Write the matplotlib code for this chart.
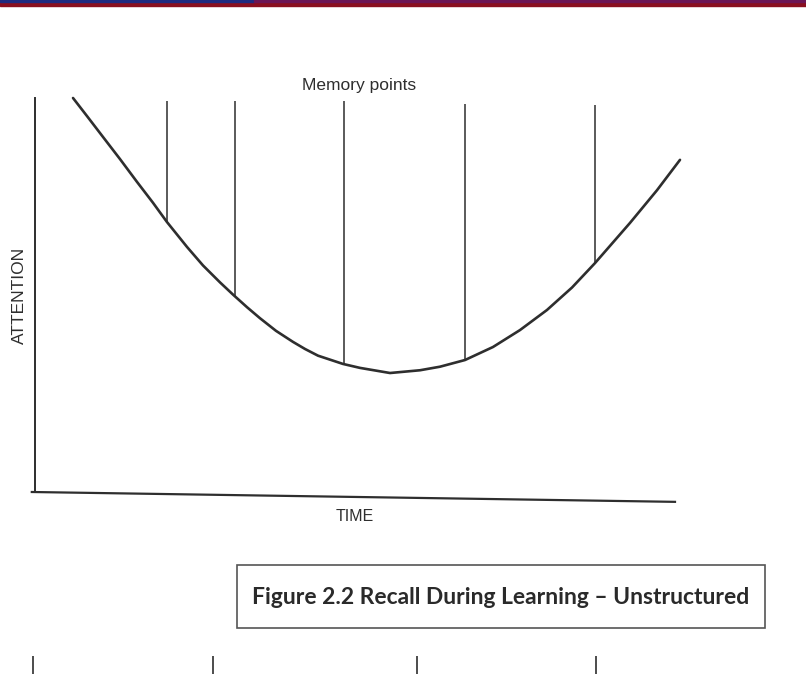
"""
plot.py

Recreates the 'Recall During Learning - Unstructured' attention curve figure.
"""

import matplotlib.pyplot as plt
from matplotlib.patches import Rectangle

# attention curve (time 0-100, attention 0-100)
time = [5.94, 8.13, 10.63, 13.28, 15.94, 18.44, 20.63, 23.75, 26.25, 28.91, 30.94, 33.13,
        35.16, 37.66, 40.31, 42.19, 44.22, 48.13, 50.78, 55.47, 60.16, 63.28, 67.19, 71.56,
        75.78, 80.0, 83.91, 87.5, 92.97, 97.19, 100.78]
attention = [100.0, 95.4, 90.1, 84.5, 78.7, 73.4, 68.5, 62.2, 57.5, 53.2, 50.1, 46.9,
             44.1, 40.9, 38.1, 36.3, 34.6, 32.5, 31.5, 30.2, 30.9, 31.8, 33.5, 36.8,
             41.1, 46.2, 51.9, 58.1, 68.3, 76.6, 84.3]

# memory points: where recall happens, and where each marker line ends at the top
memory_time = [20.63, 31.25, 48.28, 67.19, 87.5]
memory_attention = [68.5, 49.6, 32.5, 33.5, 58.1]
memory_top = [99.2, 99.2, 99.2, 98.5, 98.2]

# the scanned time axis sags a little towards the right
axis_time = [-0.5, 100]
axis_level = [0, -2.5]

# tick marks of the next figure, cut off at the bottom of the page (pixels)
next_ticks = [33, 213, 417, 596]

ink = '#2e2e2e'
plt.rcParams['font.family'] = ['Liberation Sans', 'DejaVu Sans']

fig = plt.figure(figsize=(8.06, 6.74), dpi=100)

# slide header strip
fig.patches.append(Rectangle((0, 1 - 6 / 674), 1, 6 / 674, transform=fig.transFigure,
                             color='#8a0f1f', zorder=5))
fig.patches.append(Rectangle((0, 1 - 2 / 674), 254 / 806, 2 / 674, transform=fig.transFigure,
                             color='#1f2a80', zorder=6))
fig.patches.append(Rectangle((254 / 806, 1 - 2 / 674), 1 - 254 / 806, 2 / 674,
                             transform=fig.transFigure, color='#6b1555', zorder=6))

ax = fig.add_axes([35 / 806, (674 - 492) / 674, 640 / 806, 394 / 674])
ax.set_xlim(0, 100)
ax.set_ylim(0, 100)
ax.plot(time, attention, color=ink, lw=1.9, solid_capstyle='round',
        solid_joinstyle='round', clip_on=False)
ax.vlines(memory_time, memory_attention, memory_top, color=ink, lw=1.1, clip_on=False)
ax.plot(axis_time, axis_level, color=ink, lw=1.6, clip_on=False)

for side in ['top', 'right', 'bottom']:
    ax.spines[side].set_visible(False)
ax.spines['left'].set_color(ink)
ax.spines['left'].set_linewidth(1.4)
ax.set_xticks([])
ax.set_yticks([])

ax.text(50.6, 101.3, 'Memory points', ha='center', va='bottom', fontsize=12.5, color=ink)
ax.set_xlabel('TIME', fontsize=11.5, color=ink, labelpad=12)
ax.set_ylabel('ATTENTION', fontsize=12.5, color=ink, labelpad=6)

# caption box
fig.patches.append(Rectangle((237 / 806, 1 - 628 / 674), 528 / 806, 63 / 674,
                             transform=fig.transFigure, fill=False, edgecolor='#555555', lw=1.2))
fig.text(501 / 806, 1 - 597 / 674, 'Figure 2.2 Recall During Learning \u2013 Unstructured',
         ha='center', va='center', fontsize=16.5, fontweight='bold', color='#2a2a2a',
         family=['Lato', 'DejaVu Sans'])

# bits of the next figure
bottom = fig.add_axes([0, 0, 1, 20 / 674])
bottom.set_xlim(0, 806)
bottom.set_ylim(0, 20)
bottom.vlines(next_ticks, 0, 18, color=ink, lw=1.2)
bottom.axis('off')

fig.savefig('out.png', dpi=100)
